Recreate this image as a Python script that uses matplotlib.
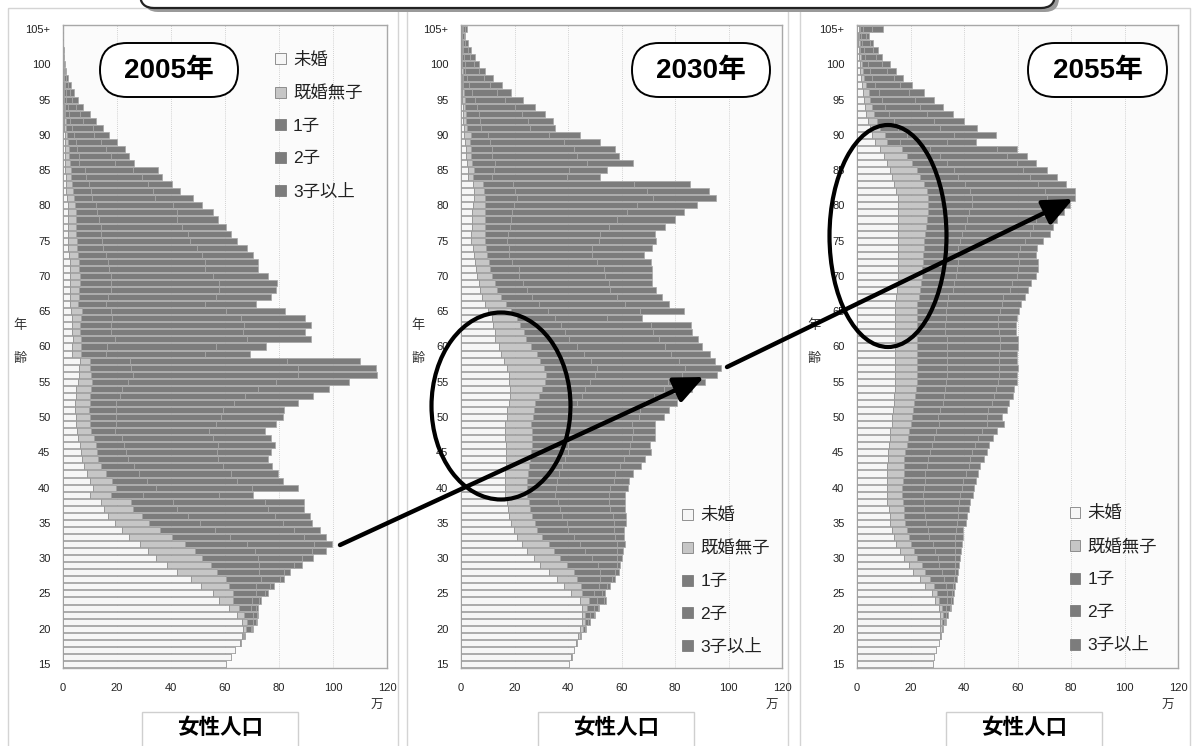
import numpy as np
import matplotlib.pyplot as plt
from matplotlib.patches import Ellipse, FancyBboxPatch, FancyArrowPatch, Rectangle, Patch
from matplotlib.transforms import Affine2D

plt.rcParams['font.family'] = ['Liberation Sans', 'Noto Sans CJK JP', 'DejaVu Sans']

# ---- data (万人), cumulative edges of the stacked bars, ages 15..105+ ----
ages = np.arange(15, 106)
age_ticks = list(range(15, 106, 5))
age_ticklabels = [str(a) for a in range(15, 105, 5)] + ['105+']
x_ticks = [0, 20, 40, 60, 80, 100, 120]
categories = ['未婚', '既婚無子', '1子', '2子', '3子以上']
years = ['2005年', '2030年', '2055年']

# 2005
cum05_mikon = [60.3, 62.1, 63.7, 65.6, 66.2, 66.6, 66.2, 64.6, 61.6, 57.8,
               55.4, 51.1, 47.3, 42.4, 38.4, 34.6, 31.5, 28.5, 24.5, 22.0,
               19.2, 16.7, 15.1, 14.2, 10.1, 11.1, 9.9, 8.9, 7.7, 7.2,
               6.8, 6.2, 5.6, 5.2, 4.9, 4.7, 4.3, 4.3, 4.7, 4.9,
               5.6, 5.9, 5.9, 6.2, 3.5, 3.5, 3.7, 3.5, 3.5, 3.5,
               3.1, 2.5, 2.7, 2.7, 2.7, 2.7, 2.5, 2.5, 2.2, 1.9,
               1.9, 1.9, 1.9, 1.9, 1.9, 1.9, 1.5, 1.2, 1.2, 1.2,
               0.9, 0.9, 0.9, 0.9, 0.6, 0.6, 0.5, 0.4, 0.2, 0.2,
               0.1, 0.1, 0.1, 0, 0, 0, 0, 0, 0, 0,
               0]
cum05_muko = [60.3, 62.1, 63.7, 65.8, 66.8, 67.8, 68.0, 67.1, 65.0, 63.1,
              62.8, 61.5, 60.3, 57.2, 54.7, 51.3, 48.9, 45.2, 40.2, 36.1,
              31.9, 29.1, 26.0, 25.1, 17.6, 19.8, 18.0, 16.1, 13.9, 13.1,
              12.6, 12.1, 11.4, 10.5, 10.1, 9.9, 9.6, 9.9, 10.1, 10.5,
              10.9, 10.5, 10.1, 10.1, 6.8, 6.8, 6.8, 6.4, 6.4, 6.6,
              7.2, 5.6, 5.8, 5.9, 6.2, 6.2, 5.8, 5.8, 5.6, 5.2,
              5.2, 4.9, 4.9, 4.7, 4.7, 4.3, 4.0, 3.7, 3.5, 3.1,
              2.8, 2.5, 2.2, 2.2, 1.9, 1.6, 1.2, 1.0, 0.7, 0.6,
              0.5, 0.4, 0.2, 0.1, 0.1, 0, 0, 0, 0, 0,
              0]
cum05_c1 = [60.3, 62.1, 63.7, 65.8, 67.2, 69.5, 70.5, 70.3, 69.5, 69.9,
            71.5, 71.5, 73.2, 72.7, 72.7, 72.4, 71.1, 68.0, 61.9, 56.3,
            50.7, 46.4, 42.3, 40.8, 29.7, 34.4, 31.2, 28.2, 26.2, 24.1,
            23.3, 22.5, 21.7, 19.2, 19.5, 19.5, 19.5, 19.8, 21.0, 21.7,
            24.1, 26.0, 25.0, 24.7, 16.1, 16.3, 19.2, 17.9, 17.9, 18.3,
            17.9, 16.1, 16.7, 17.6, 17.9, 17.6, 17.1, 16.7, 16.1, 14.8,
            14.6, 14.2, 13.9, 13.4, 12.7, 12.4, 10.9, 10.5, 9.6, 8.7,
            8.0, 5.9, 5.9, 5.2, 4.7, 4.0, 3.5, 2.5, 2.2, 1.9,
            1.2, 1.0, 0.7, 0.5, 0.2, 0.1, 0, 0, 0, 0,
            0]
cum05_c2 = [60.3, 62.1, 63.7, 65.8, 67.4, 70.1, 71.5, 71.8, 71.5, 72.7,
            74.8, 76.7, 80.2, 81.9, 85.4, 88.5, 92.2, 92.8, 89.1, 85.4,
            81.4, 78.6, 76.1, 74.8, 57.9, 69.9, 64.6, 62.1, 59.4, 57.5,
            57.2, 57.5, 55.7, 54.2, 56.7, 58.4, 59.1, 63.3, 67.4, 72.4,
            78.9, 87.2, 87.2, 83.1, 52.6, 56.5, 68.3, 66.6, 67.1, 65.8,
            60.4, 52.6, 56.7, 57.9, 57.9, 55.4, 52.6, 52.6, 51.3, 49.5,
            47.0, 46.4, 43.9, 42.1, 42.1, 40.6, 34.0, 33.4, 31.5, 29.4,
            26.0, 19.2, 17.7, 16.1, 14.2, 11.4, 11.1, 7.4, 6.2, 4.9,
            3.5, 2.5, 1.9, 1.0, 0.6, 0.4, 0.1, 0, 0, 0,
            0]
cum05_total = [60.3, 62.1, 63.7, 65.8, 67.4, 70.3, 71.8, 72.1, 72.1, 73.2,
               75.8, 78.2, 81.9, 83.9, 88.5, 92.5, 97.4, 99.6, 97.4, 95.3,
               92.4, 91.3, 89.3, 89.1, 70.3, 87.2, 81.4, 79.8, 77.3, 76.1,
               77.0, 78.6, 77.0, 74.8, 78.9, 81.4, 81.9, 87.2, 92.5, 98.4,
               106.0, 116.3, 115.9, 110.1, 69.3, 75.2, 91.9, 89.7, 91.9, 89.7,
               82.3, 71.5, 77.0, 78.9, 79.2, 76.0, 72.1, 72.1, 70.5, 68.3,
               64.6, 62.1, 60.3, 57.5, 55.7, 51.6, 48.0, 43.3, 40.2, 36.7,
               35.1, 26.2, 24.5, 22.9, 20.0, 17.1, 14.8, 12.4, 9.9, 7.4,
               5.7, 4.0, 3.1, 1.9, 1.2, 0.7, 0.4, 0.2, 0.1, 0.1,
               0.1]

# 2030
cum30_mikon = [40.5, 41.2, 42.1, 43.1, 43.7, 44.6, 45.2, 45.2, 45.2, 44.6,
               41.2, 38.4, 35.9, 33.0, 29.7, 27.2, 24.7, 22.8, 20.9, 19.7,
               18.8, 17.8, 17.6, 17.2, 16.6, 16.6, 16.6, 16.6, 16.8, 16.8,
               16.8, 16.8, 16.6, 16.6, 16.6, 17.2, 17.2, 17.8, 18.2, 18.2,
               18.1, 17.8, 17.2, 16.0, 15.1, 14.1, 12.8, 12.6, 11.8, 11.6,
               10.1, 8.8, 7.9, 7.2, 6.6, 6.0, 5.6, 5.1, 4.7, 4.5,
               3.9, 3.9, 4.1, 4.1, 4.1, 4.4, 4.7, 4.7, 4.4, 2.6,
               2.6, 2.2, 1.9, 1.9, 1.6, 1.0, 1.0, 0.7, 0.7, 0.6,
               0.4, 0.4, 0.2, 0.2, 0.1, 0.1, 0.1, 0.1, 0.1, 0.1,
               0.1]
cum30_muko = [40.5, 41.5, 42.4, 43.4, 44.6, 45.5, 46.2, 46.5, 47.1, 47.7,
              45.2, 45.0, 43.4, 42.1, 39.6, 37.1, 34.6, 32.8, 30.3, 28.4,
              27.8, 26.5, 25.9, 25.3, 24.7, 24.7, 24.7, 25.0, 25.5, 25.9,
              26.3, 26.5, 26.5, 26.5, 26.3, 26.8, 27.2, 27.8, 29.0, 30.3,
              31.3, 31.8, 30.9, 29.7, 28.4, 26.3, 24.3, 23.4, 22.2, 20.9,
              18.8, 16.8, 15.1, 13.5, 12.6, 11.6, 11.0, 10.3, 9.7, 9.3,
              8.8, 8.8, 8.8, 8.8, 8.8, 8.8, 8.8, 8.5, 8.2, 4.4,
              4.7, 4.1, 3.9, 3.9, 3.5, 3.9, 2.2, 2.0, 1.9, 1.6,
              1.4, 1.1, 0.9, 0.7, 0.6, 0.5, 0.4, 0.4, 0.2, 0.2,
              0.4]
cum30_c1 = [40.5, 41.5, 42.4, 43.4, 44.9, 46.2, 47.5, 48.3, 49.6, 50.8,
            49.6, 51.5, 52.1, 52.1, 51.2, 49.0, 46.5, 44.6, 42.1, 40.0,
            39.6, 37.8, 37.1, 36.3, 35.0, 35.5, 35.9, 36.5, 37.8, 39.0,
            40.0, 40.0, 39.6, 39.6, 39.6, 40.2, 41.5, 43.4, 45.2, 46.5,
            48.3, 50.2, 50.8, 48.7, 45.9, 43.4, 40.2, 39.0, 37.5, 35.3,
            32.5, 29.3, 26.5, 24.7, 23.1, 21.8, 21.6, 19.1, 18.1, 17.8,
            17.2, 17.6, 18.4, 18.8, 19.1, 19.7, 20.9, 20.1, 19.3, 11.6,
            12.2, 12.8, 11.6, 11.6, 11.0, 10.1, 7.6, 7.2, 6.6, 6.0,
            5.4, 4.1, 3.1, 2.2, 1.6, 1.4, 1.0, 0.7, 0.6, 0.5,
            0.6]
cum30_c2 = [40.5, 41.5, 42.4, 43.4, 44.9, 46.5, 48.1, 49.6, 51.2, 53.3,
            52.7, 54.6, 56.4, 57.7, 58.3, 58.3, 58.3, 58.3, 57.7, 57.1,
            57.1, 56.7, 55.8, 55.2, 55.2, 55.8, 57.1, 57.7, 59.6, 60.8,
            62.7, 63.3, 63.9, 64.2, 63.9, 66.4, 67.0, 68.7, 72.0, 75.8,
            77.4, 82.6, 83.9, 81.4, 78.6, 76.1, 73.9, 71.7, 71.2, 54.6,
            67.0, 61.4, 58.3, 55.8, 55.2, 53.7, 53.3, 50.8, 49.0, 49.0,
            51.7, 52.1, 55.2, 58.3, 62.0, 65.8, 71.7, 69.5, 64.5, 39.6,
            40.2, 47.1, 43.4, 42.1, 38.4, 32.8, 25.9, 25.0, 22.8, 20.3,
            16.6, 13.5, 11.0, 8.5, 6.6, 4.7, 3.5, 2.6, 1.6, 1.1,
            1.4]
cum30_total = [40.5, 41.5, 42.4, 43.4, 44.9, 46.6, 48.3, 50.0, 51.7, 54.2,
               53.7, 55.6, 57.4, 58.9, 59.6, 60.2, 60.6, 61.2, 60.8, 60.8,
               61.7, 61.7, 61.4, 61.2, 61.4, 62.3, 62.7, 64.2, 67.4, 68.7,
               71.2, 70.8, 72.4, 72.6, 72.6, 75.8, 77.9, 80.7, 82.9, 86.4,
               91.1, 95.7, 97.3, 95.1, 93.2, 90.1, 88.6, 86.4, 86.1, 67.7,
               83.2, 77.6, 75.1, 72.9, 71.4, 71.4, 71.4, 71.2, 68.3, 71.4,
               72.9, 72.6, 76.4, 79.9, 83.5, 88.3, 95.5, 92.6, 85.6, 52.1,
               54.6, 64.2, 59.2, 57.4, 52.1, 44.4, 35.3, 34.4, 31.5, 27.5,
               23.2, 18.7, 15.3, 12.0, 9.1, 6.6, 5.1, 3.9, 2.6, 1.6,
               2.2]

# 2055
cum55_mikon = [28.4, 28.8, 29.6, 30.5, 31.1, 31.1, 31.1, 31.1, 30.5, 29.2,
               28.0, 25.5, 23.4, 21.1, 19.3, 17.4, 15.9, 14.7, 13.7, 13.1,
               12.4, 12.2, 11.8, 11.4, 11.4, 11.2, 11.2, 11.4, 11.4, 11.6,
               11.6, 11.8, 12.2, 12.4, 13.1, 13.1, 13.4, 13.7, 13.7, 14.1,
               14.1, 14.1, 14.1, 14.1, 14.1, 14.1, 14.1, 14.1, 14.3, 14.3,
               14.3, 14.3, 14.7, 14.9, 15.2, 15.5, 15.5, 15.5, 15.5, 15.5,
               15.5, 15.5, 15.5, 15.5, 15.5, 15.5, 15.2, 14.7, 13.9, 13.1,
               12.2, 11.2, 10.2, 8.7, 6.8, 5.6, 4.7, 4.0, 3.5, 3.1,
               2.7, 2.2, 1.9, 1.5, 1.2, 1.0, 0.7, 0.6, 0.5, 0.4,
               0.6]
cum55_muko = [28.4, 28.8, 29.6, 30.5, 31.3, 31.7, 31.7, 32.1, 31.7, 30.8,
              29.8, 28.8, 27.4, 25.5, 24.2, 22.4, 21.4, 20.1, 19.3, 18.7,
              18.0, 17.7, 17.4, 17.2, 16.8, 16.8, 17.2, 17.4, 17.4, 17.7,
              18.0, 18.7, 18.9, 19.3, 20.1, 20.5, 20.9, 21.4, 21.8, 22.1,
              22.4, 22.6, 22.6, 22.6, 22.6, 22.6, 22.6, 22.4, 22.4, 22.4,
              22.6, 22.6, 23.0, 23.4, 23.9, 24.2, 24.2, 24.6, 24.6, 24.9,
              25.1, 25.5, 25.9, 26.1, 26.4, 26.7, 26.4, 26.1, 24.9, 23.6,
              22.4, 20.5, 18.7, 16.8, 11.2, 10.6, 8.7, 7.5, 6.5, 5.6,
              5.0, 4.4, 3.5, 2.7, 2.2, 1.9, 1.5, 1.2, 1.0, 0.7,
              1.2]
cum55_c1 = [28.4, 28.8, 29.6, 30.5, 31.3, 32.3, 32.6, 33.3, 33.3, 33.6,
            33.6, 33.3, 32.6, 31.7, 30.8, 30.1, 29.2, 28.4, 27.1, 26.4,
            25.9, 25.5, 25.1, 24.9, 24.6, 24.9, 25.5, 25.5, 26.1, 26.7,
            27.4, 28.0, 28.8, 29.6, 30.5, 30.1, 31.1, 32.1, 32.6, 33.0,
            33.3, 33.6, 33.6, 33.8, 33.8, 33.8, 33.6, 33.0, 33.0, 33.3,
            33.3, 33.6, 34.2, 35.8, 36.3, 37.1, 37.3, 37.6, 37.3, 37.9,
            38.5, 39.2, 40.4, 41.0, 41.7, 42.9, 42.9, 42.3, 40.4, 37.9,
            36.1, 33.6, 31.1, 27.4, 16.2, 18.7, 15.2, 13.7, 11.8, 10.6,
            9.3, 8.1, 6.8, 5.6, 4.7, 4.0, 3.1, 2.5, 1.9, 1.5,
            2.2]
cum55_c2 = [28.4, 28.8, 29.6, 30.5, 31.3, 32.3, 33.0, 33.9, 34.6, 35.1,
            35.4, 35.8, 36.1, 36.7, 36.7, 36.7, 36.7, 36.7, 36.7, 37.1,
            37.3, 37.9, 37.9, 38.3, 38.5, 39.2, 39.8, 40.8, 41.7, 42.3,
            42.9, 44.1, 45.4, 46.6, 48.5, 48.5, 49.1, 50.4, 51.2, 52.0,
            52.8, 53.2, 53.2, 53.2, 53.2, 53.5, 53.5, 53.2, 52.8, 52.8,
            53.5, 54.1, 54.7, 57.2, 57.8, 59.7, 60.3, 60.7, 60.3, 60.9,
            62.8, 64.7, 65.9, 67.1, 69.0, 70.9, 70.9, 70.3, 67.8, 64.7,
            62.2, 59.7, 56.0, 52.2, 33.6, 36.1, 31.1, 28.6, 26.1, 23.6,
            21.8, 19.3, 16.2, 13.7, 11.2, 9.3, 7.2, 6.0, 4.7, 3.5,
            5.6]
cum55_total = [28.4, 28.8, 29.6, 30.5, 31.3, 32.3, 33.2, 34.2, 35.1, 35.8,
               36.3, 36.7, 37.3, 37.9, 38.3, 38.5, 38.8, 39.2, 39.5, 39.8,
               40.8, 41.0, 41.7, 42.3, 43.3, 43.8, 44.5, 45.4, 46.0, 47.5,
               48.5, 49.5, 50.7, 52.5, 55.0, 54.1, 56.0, 57.0, 58.2, 58.7,
               59.7, 59.9, 60.3, 59.9, 59.7, 60.3, 60.3, 59.4, 59.4, 59.7,
               60.7, 61.2, 62.8, 64.0, 64.9, 66.9, 67.8, 67.8, 67.1, 67.4,
               69.6, 72.1, 73.4, 74.6, 77.3, 79.6, 81.6, 81.4, 78.3, 74.6,
               70.9, 66.9, 63.4, 59.7, 44.5, 52.0, 45.0, 40.0, 35.8, 32.1,
               28.6, 25.1, 20.5, 17.2, 14.7, 12.2, 9.3, 7.7, 6.0, 4.4,
               9.9]

panel_data = [
    [cum05_mikon, cum05_muko, cum05_c1, cum05_c2, cum05_total],
    [cum30_mikon, cum30_muko, cum30_c1, cum30_c2, cum30_total],
    [cum55_mikon, cum55_muko, cum55_c1, cum55_c2, cum55_total],
]

# ---- styling ----
face = ['#f6f6f6', '#c6c6c6', '#7c7c7c', '#7c7c7c', '#7c7c7c']
edge = ['#8c8c8c', '#8c8c8c', '#a6a6a6', '#a6a6a6', '#a6a6a6']

W, H = 1192, 746
fig = plt.figure(figsize=(W / 100, H / 100), dpi=100)
fig.patch.set_facecolor('white')
# pixel coordinates (y downwards) for decorations
PX = Affine2D().scale(0.01, -0.01).translate(0, H / 100) + fig.dpi_scale_trans

ax_left = [63, 461, 857]
ax_right = [387, 782, 1178]
ax_top, ax_bottom = 25, 668
legend_anchor = [(0.655, 0.958), (0.690, 0.250), (0.662, 0.253)]
outer_boxes = [(8, 398), (407, 788), (800, 1190)]
pop_boxes = [(142, 298), (538, 694), (946, 1102)]
year_boxes = [(100, 238), (632, 770), (1028, 1167)]

# outer light frames of each panel
for x0, x1 in outer_boxes:
    fig.add_artist(Rectangle((x0, 8), x1 - x0, 800, transform=PX, fill=False,
                             edgecolor='#d4d4d4', lw=1.0, zorder=0))

for i, cums in enumerate(panel_data):
    l, r = ax_left[i], ax_right[i]
    ax = fig.add_axes([l / W, 1 - ax_bottom / H, (r - l) / W, (ax_bottom - ax_top) / H])
    ax.set_facecolor('#fbfbfb')

    edges_arr = np.vstack([np.zeros(len(ages))] + [np.asarray(c, float) for c in cums])
    edges_arr = np.maximum.accumulate(edges_arr, axis=0)
    widths = np.diff(edges_arr, axis=0)

    handles = []
    for k, cat in enumerate(categories):
        ax.barh(ages, widths[k], left=edges_arr[k], height=0.86,
                color=face[k], edgecolor=edge[k], linewidth=0.5, zorder=3)
        if k < 2:
            handles.append(Patch(facecolor=face[k], edgecolor='#808080', linewidth=0.6, label=cat))
        else:
            handles.append(Patch(facecolor=face[k], edgecolor=face[k], linewidth=0.6, label=cat))

    ax.set_xlim(0, 120)
    ax.set_ylim(14.43, 105.57)
    ax.set_xticks(x_ticks)
    ax.set_yticks(age_ticks)
    ax.set_yticklabels(age_ticklabels)
    ax.tick_params(axis='both', length=0, labelsize=8, colors='#222222')
    ax.tick_params(axis='x', pad=11)
    ax.tick_params(axis='y', pad=9)
    for a in [20, 40, 60, 80, 100]:
        ax.axvline(a, color='#c4c4c4', lw=0.6, ls=(0, (1, 1.5)), zorder=1)
    for s in ax.spines.values():
        s.set_color('#a8a8a8')
        s.set_linewidth(1.0)

    leg = ax.legend(handles=handles, loc='upper left', bbox_to_anchor=legend_anchor[i],
                    frameon=False, fontsize=12.5, handlelength=0.6, handleheight=0.6,
                    handletextpad=0.42, labelspacing=1.0, borderpad=0, borderaxespad=0)
    for t in leg.get_texts():
        t.set_color('#222222')

    # 年 齢 label, 万 unit
    fig.text(l - 43, 326, '年', transform=PX, fontsize=9.5, ha='center', va='center', color='#333333')
    fig.text(l - 43, 359, '齢', transform=PX, fontsize=9.5, ha='center', va='center', color='#333333')
    fig.text(r - 10, 706, '万', transform=PX, fontsize=9, ha='center', va='center', color='#333333')

    # 女性人口 box
    bx0, bx1 = pop_boxes[i]
    fig.add_artist(Rectangle((bx0, 712), bx1 - bx0, 60, transform=PX, facecolor='white',
                             edgecolor='#cfcfcf', lw=1.0, zorder=5))
    fig.text((bx0 + bx1) / 2, 729, '女性人口', transform=PX, fontsize=15.5, fontweight='bold',
             ha='center', va='center', zorder=6)

    # year pill
    yx0, yx1 = year_boxes[i]
    fig.add_artist(FancyBboxPatch((yx0, 43), yx1 - yx0, 54, transform=PX,
                                  boxstyle='round,pad=0,rounding_size=27',
                                  facecolor='white', edgecolor='black', lw=1.4, zorder=8))
    fig.text((yx0 + yx1) / 2, 71, years[i], transform=PX, fontsize=20, fontweight='bold',
             ha='center', va='center', zorder=9)

# top banner (cut off by the figure edge)
fig.add_artist(FancyBboxPatch((144, -60), 915, 72, transform=PX,
                              boxstyle='round,pad=0,rounding_size=14',
                              facecolor='#9a9a9a', edgecolor='none', zorder=7))
fig.add_artist(FancyBboxPatch((140, -60), 915, 68, transform=PX,
                              boxstyle='round,pad=0,rounding_size=14',
                              facecolor='white', edgecolor='#222222', lw=1.6, zorder=8))

# ellipses
fig.add_artist(Ellipse((501, 406), 139, 187, transform=PX, fill=False,
                       edgecolor='black', lw=3.0, zorder=10))
fig.add_artist(Ellipse((888, 236), 117, 222, transform=PX, fill=False,
                       edgecolor='black', lw=3.0, zorder=10))

# arrows
for p0, p1 in [((340, 545), (704, 377)), ((727, 367), (1073, 199))]:
    fig.add_artist(FancyArrowPatch(p0, p1, transform=PX,
                                   arrowstyle='-|>,head_length=0.9,head_width=0.4',
                                   mutation_scale=20, lw=3.2, color='black',
                                   shrinkA=0, shrinkB=0, zorder=11))

fig.savefig('out.png', dpi=100)
